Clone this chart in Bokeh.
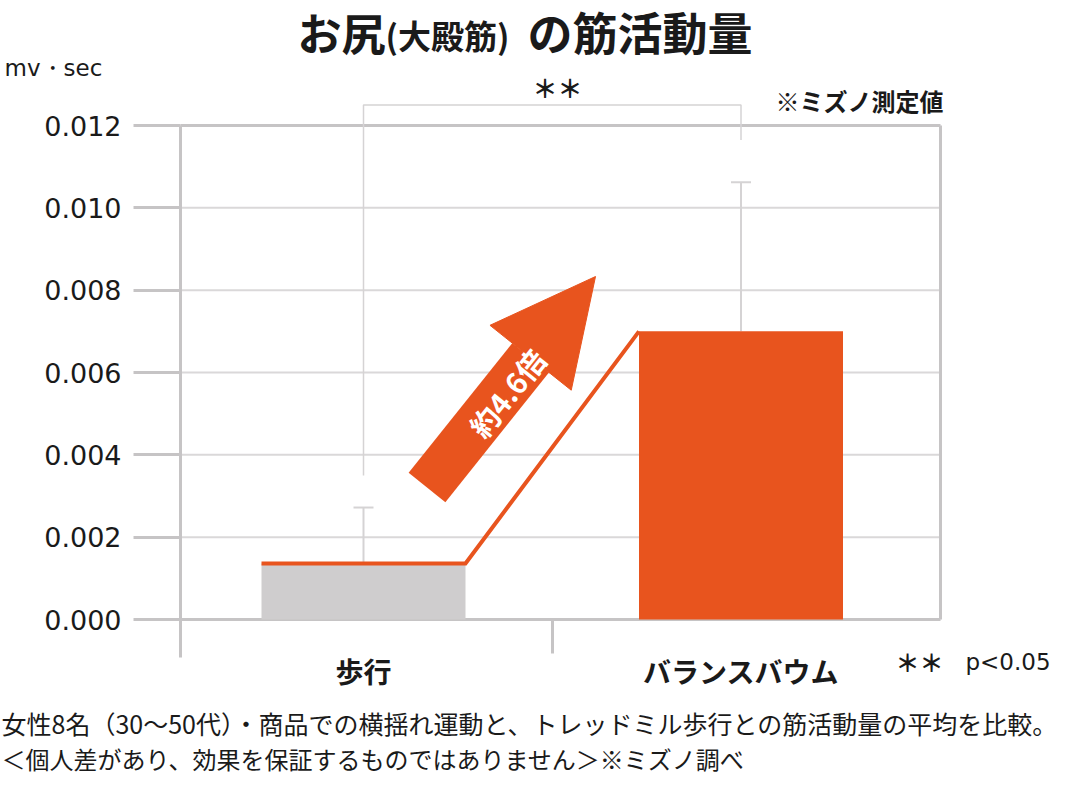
from bokeh.plotting import figure
from bokeh.models import (Range1d, FixedTicker, LinearAxis, Label, Arrow,
                          NormalHead, ColumnDataSource, NumeralTickFormatter)
from bokeh.embed import file_html
from bokeh.resources import INLINE
import math

# --- data ---
categories = ["歩行", "バランスバウム"]
means = [0.00136, 0.0070]
upper_err = [0.00272, 0.01062]
bar_colors = ["#cfcdce", "#e8541e"]
y_ticks = [0.000, 0.002, 0.004, 0.006, 0.008, 0.010, 0.012]

title_parts = ["お尻", "(大殿筋)", "の筋活動量"]
unit_label = "mv・sec"
source_note = "※ミズノ測定値"
ratio_text = "約4.6倍"
sig_mark = "＊＊"
sig_note = "p<0.05"
footnotes = [
    "女性8名（30〜50代）・商品での横揺れ運動と、トレッドミル歩行との筋活動量の平均を比較。",
    "＜個人差があり、効果を保証するものではありません＞※ミズノ調べ",
]
bracket_y = 0.0125
bracket_legs = [0.0035, 0.01165]

ORANGE = "#e8541e"
BORDER = "#c6c4c5"
GRID = "#dad8d9"
ERR = "#d5d3d4"
TEXT = "#1a1a1a"
JP = "Noto Sans CJK JP"

W, H = 1064, 776
PX_X = 377.5            # pixels per category step
PX_Y = 494 / 0.012      # pixels per unit of y


def fx(px):
    # canvas pixel -> x data value
    return 1 + (px - 363) / PX_X


def fy(py):
    # canvas pixel -> y data value
    return (619 - py) / PX_Y


xs = [i + 1 for i in range(len(categories))]
bar_w = 204 / PX_X
cap = 10 / PX_X
x_lo, x_hi = fx(180), fx(940)

# the frame fills the whole canvas; axes sit at fixed places inside it
p = figure(width=W, height=H, x_range=Range1d(fx(0), fx(W)),
           y_range=Range1d(fy(H), fy(0)), min_border=0,
           toolbar_location=None, output_backend="svg",
           outline_line_color=None)
p.title.visible = False
p.xgrid.visible = False
p.ygrid.visible = False

# y axis
ya = p.yaxis[0]
ya.fixed_location = x_lo
ya.ticker = FixedTicker(ticks=y_ticks)
ya.formatter = NumeralTickFormatter(format="0.000")
ya.bounds = (fy(657), y_ticks[-1])
ya.axis_line_color = BORDER
ya.axis_line_width = 3
ya.major_tick_line_color = BORDER
ya.major_tick_line_width = 3
ya.major_tick_out = 47
ya.major_tick_in = 0
ya.minor_tick_line_color = None
ya.major_label_standoff = 12
ya.major_label_text_font = "DejaVu Sans"
ya.major_label_text_font_size = "27px"
ya.major_label_text_color = TEXT

# right border
ra = LinearAxis(fixed_location=x_hi, bounds=(y_ticks[0], y_ticks[-1]),
                ticker=FixedTicker(ticks=[]),
                axis_line_color=BORDER, axis_line_width=3,
                major_tick_line_color=None, minor_tick_line_color=None,
                major_label_text_font_size="0px")
p.add_layout(ra, "right")

# x axis with category labels and separator tick
xa = p.xaxis[0]
xa.fixed_location = fy(653)
xa.ticker = FixedTicker(ticks=xs, minor_ticks=[(xs[0] + xs[1]) / 2])
xa.major_label_overrides = {x: c for x, c in zip(xs, categories)}
xa.axis_line_color = None
xa.major_tick_line_color = None
xa.major_tick_out = 0
xa.major_tick_in = 0
xa.minor_tick_line_color = BORDER
xa.minor_tick_line_width = 3
xa.minor_tick_in = 34
xa.minor_tick_out = 0
xa.major_label_standoff = -3
xa.major_label_text_font = JP
xa.major_label_text_font_style = "bold"
xa.major_label_text_font_size = "28px"
xa.major_label_text_color = TEXT

# grid lines between the axis and the right border
inner = y_ticks[1:-1]
p.segment(x0=[x_lo] * len(inner), y0=inner, x1=[x_hi] * len(inner), y1=inner,
          line_color=GRID, line_width=2)
edges = [y_ticks[0], y_ticks[-1]]
p.segment(x0=[x_lo] * 2, y0=edges, x1=[x_hi] * 2, y1=edges,
          line_color=BORDER, line_width=3)

# significance bracket
p.line(x=[xs[0], xs[0], xs[1], xs[1]],
       y=[bracket_legs[0], bracket_y, bracket_y, bracket_legs[1]],
       line_color=ERR, line_width=1.5)

# error bars
src = ColumnDataSource(dict(x=xs, top=means, up=upper_err, color=bar_colors,
                            l=[x - cap for x in xs], r=[x + cap for x in xs]))
p.segment(x0="x", y0="top", x1="x", y1="up", source=src, line_color=ERR, line_width=2)
p.segment(x0="l", y0="up", x1="r", y1="up", source=src, line_color=ERR, line_width=2)

# bars
p.vbar(x="x", top="top", width=bar_w, fill_color="color", line_color=None, source=src)

# connector line along the top of the walking bar to the balance bar
p.line(x=[xs[0] - bar_w / 2, xs[0] + bar_w / 2, xs[1] - bar_w / 2],
       y=[means[0], means[0], means[1]],
       line_color=ORANGE, line_width=4, line_join="miter")

# big arrow
p.add_layout(Arrow(end=NormalHead(size=104, fill_color=ORANGE, line_color=ORANGE, line_width=1),
                   x_start=fx(426.5), y_start=fy(487), x_end=fx(595), y_end=fy(276),
                   line_color=ORANGE, line_width=47, line_cap="butt"))
ang = math.atan2(487 - 276, 595 - 426.5)
p.add_layout(Label(x=fx(506), y=fy(392), text=ratio_text, angle=ang,
                   text_align="center", text_baseline="middle",
                   text_font=JP, text_font_style="bold", text_font_size="29px",
                   text_color="white"))


# texts
def add_text(px, py, text, size, align="left", font=JP, style="normal"):
    p.add_layout(Label(x=fx(px), y=fy(py), text=text, text_align=align,
                       text_baseline="middle", text_font=font, text_font_style=style,
                       text_font_size=size, text_color=TEXT))


add_text(297, 31, title_parts[0], "44px", style="bold")
add_text(447, 34, title_parts[1], "33px", align="center", style="bold")
add_text(527, 31, title_parts[2], "45px", style="bold")
add_text(4, 67, unit_label, "23px", font="DejaVu Sans")
add_text(557, 86, sig_mark, "25px", align="center", style="bold")
add_text(943, 100, source_note, "24px", align="right", style="bold")
add_text(895, 661, sig_mark, "24px", style="bold")
add_text(965, 661, sig_note, "23px", font="DejaVu Sans")
add_text(1, 722, footnotes[0], "25px")
add_text(1, 758, footnotes[1], "24px")

open("out.html", "w").write(file_html(p, INLINE))
